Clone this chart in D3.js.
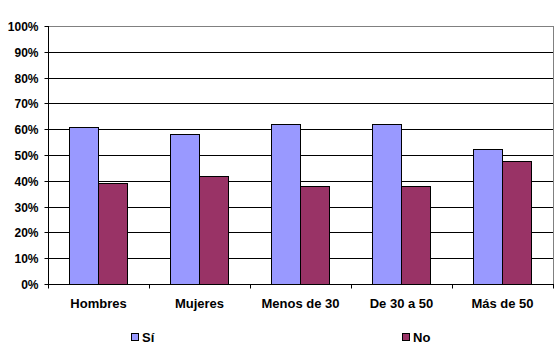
<!DOCTYPE html>
<html lang="es">
<head>
<meta charset="UTF-8">
<title>Sí / No</title>
<script src="https://d3js.org/d3.v7.min.js"></script>
<style>
    body { margin: 0; background: #fff; overflow: hidden; }
    svg text { font-family: Arial, "Liberation Sans", sans-serif; font-weight: bold; font-size: 12px; fill: #000; }
    svg .cat-label, svg .legend-label { font-size: 13px; }
</style>
</head>
<body>
<div id="chart"></div>
<script>
const categories = ["Hombres", "Mujeres", "Menos de 30", "De 30 a 50", "Más de 50"];
const seriesNames = ["Sí", "No"];
const siValues = [61, 58.3, 62, 62, 52.2];
const noValues = [39, 41.7, 38, 38, 47.8];
const yTicks = [0, 10, 20, 30, 40, 50, 60, 70, 80, 90, 100];
const colors = ["#9999ff", "#993366"];

const W = 558, H = 360;
const plot = { left: 48, right: 553, top: 26, bottom: 284 };

const svg = d3.select("#chart").append("svg")
    .attr("width", W).attr("height", H);

const x = d3.scaleBand()
    .domain(categories)
    .range([plot.left, plot.right]);

const y = d3.scaleLinear()
    .domain([0, 100])
    .range([plot.bottom, plot.top]);

// gridlines
svg.append("g").selectAll("line")
    .data(yTicks.filter(d => d > 0 && d < 100))
    .join("line")
    .attr("x1", plot.left).attr("x2", plot.right)
    .attr("y1", d => Math.round(y(d)) + 0.5).attr("y2", d => Math.round(y(d)) + 0.5)
    .attr("stroke", "#000").attr("shape-rendering", "crispEdges");

// plot border (top + right gray)
svg.append("path")
    .attr("d", `M${plot.left},${plot.top + 0.5}H${plot.right + 0.5}V${plot.bottom}`)
    .attr("fill", "none").attr("stroke", "#808080").attr("shape-rendering", "crispEdges");

// bars
const gapRatio = 0.75;
const barW = x.bandwidth() / (2 + 2 * gapRatio);
const rows = categories.map((c, i) => [
    { cat: c, s: 0, v: siValues[i] },
    { cat: c, s: 1, v: noValues[i] }
]).flat();

svg.append("g").selectAll("rect")
    .data(rows)
    .join("rect")
    .attr("x", d => Math.floor(x(d.cat) + x.bandwidth() / 2 - barW + d.s * barW) + 0.5)
    .attr("y", d => Math.round(y(d.v)) + 0.5)
    .attr("width", Math.round(barW))
    .attr("height", d => Math.round(y(0)) - Math.round(y(d.v)))
    .attr("fill", d => colors[d.s])
    .attr("stroke", "#000")
    .attr("stroke-width", 1)
    .attr("shape-rendering", "crispEdges");

// y axis
const yAxis = d3.axisLeft(y)
    .tickValues(yTicks)
    .tickFormat(d => d + "%")
    .tickSize(4)
    .tickPadding(6);
const gy = svg.append("g")
    .attr("transform", `translate(${plot.left + 0.5},0)`)
    .call(yAxis);
gy.select(".domain").attr("stroke", "#000").attr("d", `M0,${plot.top}V${plot.bottom + 0.5}`);
gy.selectAll(".tick line").attr("stroke", "#000");
gy.selectAll(".tick").attr("transform", d => `translate(0,${Math.round(y(d)) + 0.5})`);
gy.selectAll("text").attr("dy", "0.36em").attr("x", -10);

// x axis
const gx = svg.append("g")
    .attr("transform", `translate(0,${plot.bottom + 0.5})`);
gx.append("line")
    .attr("x1", plot.left).attr("x2", plot.right + 1)
    .attr("stroke", "#000");
gx.selectAll(".cat-tick")
    .data(categories.concat(["end"]))
    .join("line")
    .attr("class", "cat-tick")
    .attr("x1", (d, i) => Math.round(plot.left + i * x.step()) + 0.5)
    .attr("x2", (d, i) => Math.round(plot.left + i * x.step()) + 0.5)
    .attr("y1", 0).attr("y2", 4)
    .attr("stroke", "#000");
gx.selectAll(".cat-label")
    .data(categories)
    .join("text")
    .attr("class", "cat-label")
    .attr("x", d => x(d) + x.bandwidth() / 2)
    .attr("y", 23)
    .attr("text-anchor", "middle")
    .text(d => d);

// legend
const legendX = [131, 402];
const lg = svg.append("g").selectAll("g")
    .data(seriesNames)
    .join("g")
    .attr("transform", (d, i) => `translate(${legendX[i]},333)`);
lg.append("rect")
    .attr("x", 0.5).attr("y", 0.5)
    .attr("width", 7).attr("height", 7)
    .attr("fill", (d, i) => colors[i])
    .attr("stroke", "#000");
lg.append("text")
    .attr("class", "legend-label")
    .attr("x", 11).attr("y", 8.5)
    .text(d => d);
</script>
</body>
</html>
